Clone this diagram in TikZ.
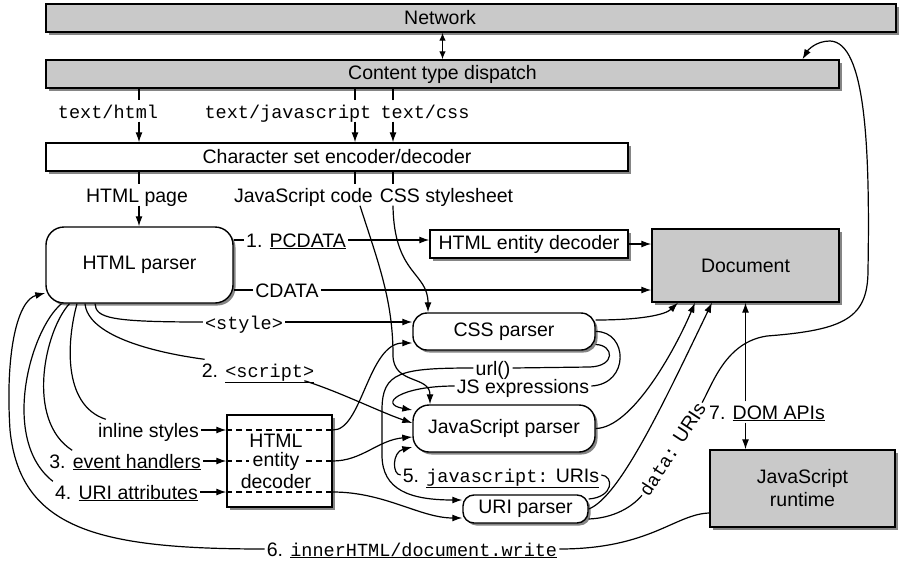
\documentclass[tikz,border=0pt]{standalone}
\usepackage{fontspec}
\setmainfont{Liberation Sans}
\setmonofont[Scale=0.95]{Liberation Mono}
\usetikzlibrary{arrows.meta,shadows}
\begin{document}
\begin{tikzpicture}[x=1pt,y=-1pt,
  font=\fontsize{19.5}{21}\selectfont,
  every node/.style={inner sep=0pt},
  box/.style={draw,line width=1.4pt,fill=white,
    drop shadow={shadow xshift=2.5pt,shadow yshift=-2.5pt,opacity=0.6,fill=black!80}},
  gbox/.style={box,fill=black!21},
  rbox/.style={box,rounded corners=#1},
  lbl/.style={inner xsep=2pt,inner ysep=2pt,text height=15.5pt,text depth=1.5pt},
  conn/.style={line width=1.2pt},
  arr/.style={conn,-{Latex[length=10pt,width=7pt]}},
  dbl/.style={conn,{Latex[length=8pt,width=6.5pt]}-{Latex[length=8pt,width=6.5pt]}},
  dsh/.style={conn,dash pattern=on 6pt off 4pt}]
\useasboundingbox (0,0) rectangle (899,562);
% boxes
\node[gbox,minimum width=850pt,minimum height=28pt] (net) at (471,18) {};
\node (netl) at (440,18) {Network};
\node[gbox,minimum width=793pt,minimum height=28pt] (disp) at (442.5,74) {Content type dispatch};
\node[box,minimum width=582pt,minimum height=28pt] (cs) at (337,157) {Character set encoder/decoder};
\node[rbox=18pt,minimum width=187pt,minimum height=76pt] (hp) at (139.5,265) {HTML parser};
\node[box,minimum width=198pt,minimum height=28pt] (ed1) at (529,244) {HTML entity decoder};
\node[gbox,minimum width=187pt,minimum height=73pt] (doc) at (745.5,265.5) {Document};
\node[rbox=14pt,minimum width=182pt,minimum height=37pt] (css) at (504,331.5) {CSS parser};
\node[rbox=16pt,minimum width=182pt,minimum height=47pt] (jsp) at (504,428.5) {JavaScript parser};
\node[rbox=11pt,minimum width=125pt,minimum height=28pt] (uri) at (525.5,509) {URI parser};
\node[gbox,minimum width=185pt,minimum height=77pt,align=center,font=\fontsize{19.5}{23}\selectfont] (rt) at (802.5,488.5) {JavaScript\\runtime};
\node[box,minimum width=105pt,minimum height=92pt] (ed2) at (279.5,461) {};
% labels
\node[lbl] (lh) at (108,111) {\texttt{text/html}};
\node[lbl] (lj) at (288,111) {\texttt{text/javascript}};
\node[lbl] (lc) at (425,111) {\texttt{text/css}};
\node[lbl] (lpage) at (137,195) {HTML page};
\node[lbl] (ljs) at (303.5,195) {JavaScript code};
\node[lbl] (lcss) at (446.5,195) {CSS stylesheet};
\node[lbl] (pcdata) at (296,240) {1. \underline{PCDATA}};
\node[lbl] (cdata) at (287,290) {CDATA};
\node[lbl] (lstyle) at (244,322) {\texttt{<style>}};
\node[lbl] (lscript) at (258,370) {2. \underline{\texttt{<script>}}};
\node[lbl,anchor=east] (linl) at (201,430) {inline styles};
\node[lbl,anchor=east] (lev) at (203,461) {3. \underline{event handlers}};
\node[lbl,anchor=east] (luri) at (200,492) {4. \underline{URI attributes}};
\node[lbl] (lurl) at (493,368) {url()};
\node[lbl] (ljse) at (523,386) {JS expressions};
\node[lbl] (ljsu) at (501,475) {5. \underline{\texttt{javascript:} URIs}};
\node[lbl] (linner) at (412,549) {6. \underline{\texttt{innerHTML/document.write}}};
\node[lbl] (ldom) at (767,412) {7. \underline{DOM APIs}};
\node[lbl,rotate=57] (ldata) at (672,449) {\texttt{data:} URIs};
\coordinate (xh) at (139,0);
\coordinate (xj) at (355,0);
\coordinate (xc) at (393,0);
% top connectors
\draw[dbl] (disp.north) -- (disp.north |- net.south);
\foreach \lab/\xx in {lh/xh,lj/xj,lc/xc}{
  \draw[conn] (disp.south -| \xx) -- (\lab.north -| \xx);
  \draw[arr] (\lab.south -| \xx) -- (cs.north -| \xx);
}
\draw[conn] (cs.south -| xh) -- (lpage.north -| xh);
\draw[arr] (lpage.south -| xh) -- (hp.north -| xh);
\draw[conn] (cs.south -| xj) -- (ljs.north -| xj);
\draw[conn] (cs.south -| xc) -- (lcss.north -| xc);
\draw[arr] ([xshift=56.5pt]ljs.south) .. controls (378,262) and (393,300) .. (393,355) .. controls (393,385) and (430,375) .. ([xshift=-74pt]jsp.north);
\draw[arr] (lcss.south -| xc) .. controls (394,275) and (428,272) .. ([xshift=-76pt]css.north);
% HTML parser outputs
\draw[conn] (pcdata.west -| hp.east) -- (pcdata.west);
\draw[arr] (pcdata.east) -- (pcdata.east -| ed1.west);
\draw[arr] (ed1.east) -- (ed1.east -| doc.west);
\draw[conn] (cdata.west -| hp.east) -- (cdata.west);
\draw[arr] (cdata.east) -- (cdata.east -| doc.west);
\draw[conn] ([xshift=-44.5pt]hp.south) .. controls (96,318) and (110,322) .. (lstyle.west);
\draw[arr] (lstyle.east) -- (lstyle.east -| css.west);
\draw[conn] ([xshift=-54.5pt]hp.south) .. controls (88,335) and (150,352) .. ([xshift=5pt]lscript.north west);
\draw[arr] ([xshift=-12pt]lscript.south east) .. controls (340,392) and (380,412) .. ([yshift=5.5pt]jsp.west);
\draw[conn] ([xshift=-62.5pt]hp.south) .. controls (67,340) and (62,405) .. ([xshift=10pt]linl.north west);
\draw[conn] ([xshift=-70pt]hp.south) .. controls (45,330) and (25,420) .. ([xshift=25pt]lev.north west);
\draw[conn] ([xshift=-78pt]hp.south) .. controls (30,330) and (0,440) .. (luri.north west);
% entity decoder (attributes)
\foreach \lab in {linl,lev,luri}{
  \draw[arr] (\lab.east) -- (\lab.east -| ed2.west);
  \draw[dsh] (\lab.east -| ed2.west) -- (\lab.east -| ed2.east);
}
\node (edh) at (276,441) {HTML};
\node[fill=white,inner xsep=4pt,inner ysep=1pt] (ede) at (276,461) {entity};
\node (edd) at (276,482) {decoder};
\draw[arr] (linl.east -| ed2.east) .. controls (362,431) and (368,343) .. ([yshift=-11.5pt]css.west);
\draw[arr] (lev.east -| ed2.east) .. controls (362,461) and (378,440) .. ([yshift=-8.5pt]jsp.west);
\draw[arr] (luri.east -| ed2.east) .. controls (385,492) and (420,518) .. ([yshift=-9pt]uri.west);
% CSS parser loops
\draw[conn] ([yshift=-13pt]css.east) .. controls (614,345) and (616,366) .. (590,367) -- (lurl.east);
\draw[arr] (lurl.west) .. controls (400,368) and (382,372) .. (382,410) -- (382,455) .. controls (382,490) and (410,500) .. ([yshift=9pt]uri.west);
\draw[conn] (css.east) .. controls (628,331) and (630,384) .. (ljse.east);
\draw[arr] (ljse.west) .. controls (400,386) and (378,404) .. ([yshift=18.5pt]jsp.west);
% URI parser
\draw[conn] ([yshift=10pt]uri.east) .. controls (614,497) and (614,476) .. (ljsu.east);
\draw[arr] (ljsu.west) .. controls (392,475) and (392,452) .. ([yshift=-18.5pt]jsp.west);
% to document
\draw[arr] ([yshift=11.5pt]css.east) .. controls (640,320) and (665,315) .. ([xshift=-67.5pt]doc.south);
\draw[arr] (jsp.east) .. controls (632,428) and (675,350) .. ([xshift=-50.5pt]doc.south);
\draw[arr] (uri.east) .. controls (620,497) and (665,400) .. ([xshift=-33.5pt]doc.south);
% data: URIs back to dispatch
\draw[conn] ([yshift=-10pt]uri.east) .. controls (614,518) and (632,507) .. (ldata.west);
\draw[arr] (ldata.east) .. controls (713,383) and (726,342) .. (767,336) .. controls (845,330) and (868,318) .. (868,270) .. controls (870,150) and (866,42) .. (830,41) .. controls (816,41) and (808,50) .. ([xshift=360pt]disp.north);
% DOM APIs
\draw[arr] (ldom.north -| doc.south) -- (doc.south);
\draw[arr] (ldom.south -| doc.south) -- (doc.south |- rt.north);
% innerHTML
\draw[conn] ([yshift=-24.5pt]rt.west) .. controls (675,514) and (650,549) .. (linner.east);
\draw[arr] (linner.west) .. controls (100,549) and (20,530) .. (10,430) .. controls (5,350) and (18,300) .. ([yshift=-28pt]hp.west);
\end{tikzpicture}
\end{document}
